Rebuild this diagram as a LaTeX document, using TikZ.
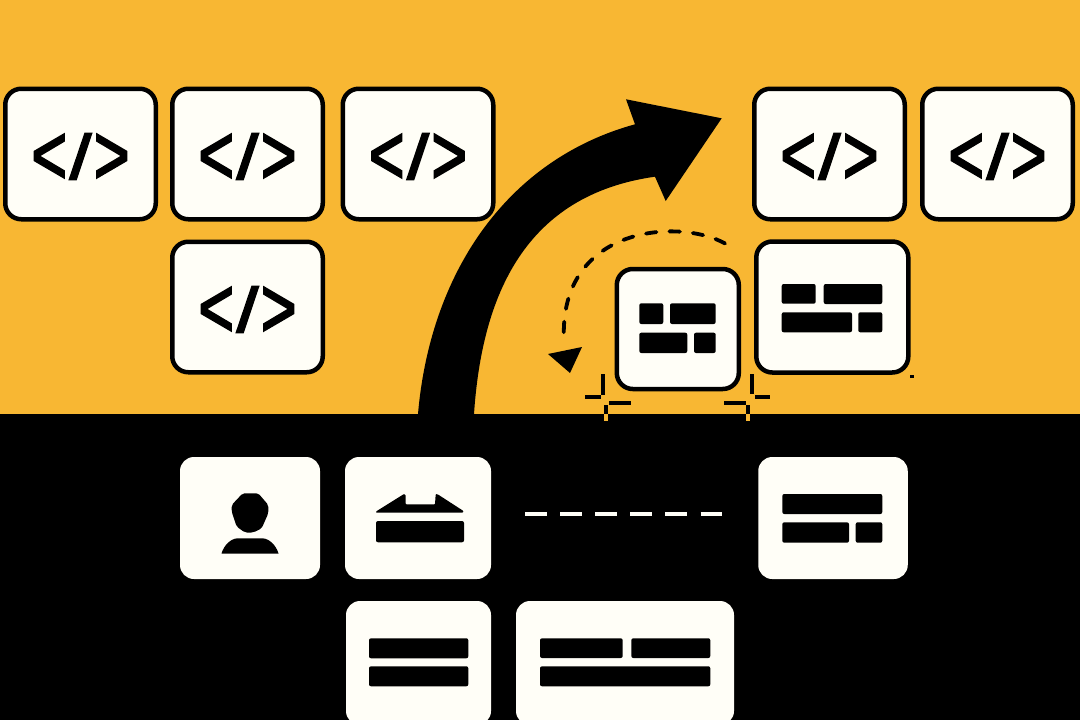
\documentclass[tikz,border=0pt]{standalone}
\usepackage{fontspec}
\setmainfont{Liberation Sans}
\newfontfamily\codefont[FakeBold=2.6]{Liberation Sans}
\usepackage{graphicx}
\definecolor{sun}{HTML}{F8B733}
\definecolor{cream}{HTML}{FFFEF7}
\newcommand{\codemark}{\fontsize{60}{60}\codefont
  \raisebox{-30pt}[0pt][0pt]{\scalebox{1.02}[1.42]{<}}\kern2.5pt\raisebox{-25pt}[0pt][0pt]{\scalebox{1.3}[1.05]{/}}\kern2.5pt\raisebox{-30pt}[0pt][0pt]{\scalebox{1.02}[1.42]{>}}}
\tikzset{
  x=1pt,y=-1pt,
  card/.style={draw=black,line width=4.5pt,fill=cream,rounded corners=16pt,inner sep=0pt,text=black},
  codecard/.style={card,minimum width=150.5pt,minimum height=130.5pt},
  plain/.style={fill=cream,rounded corners=14pt,inner sep=0pt},
  barshape/.style={fill=black,rounded corners=2pt},
  tick/.style={line width=4pt,black},
  tickend/.style={line width=4pt,sun},
  dashlink/.style={draw=cream,line width=4pt,dash pattern=on 21.6pt off 13.5pt},
  orbit/.style={draw=black,line width=3.8pt,line cap=round,dash pattern=on 10.5pt off 13pt}
}
\begin{document}
\begin{tikzpicture}
\useasboundingbox (0,0) rectangle (1080,720);
\clip (0,0) rectangle (1080,720);
\fill[sun] (0,0) rectangle (1080,414);
\fill[black] (0,414) rectangle (1080,720);

% code cards
\node[codecard] (c1) at (80.5,154) {\codemark};
\node[codecard] (c2) at (247.5,154) {\codemark};
\node[codecard] (c3) at (418,154) {\codemark};
\node[codecard] (c4) at (247.5,307) {\codemark};
\node[codecard] (c5) at (829.5,154) {\codemark};
\node[codecard] (c6) at (997.5,154) {\codemark};

% big arrow
\fill[black] (418,414) .. controls (430,275) and (505,160) .. (635,124.3)
  -- (626,99.3) -- (721.7,118.3) -- (665.7,201) -- (655,176.7)
  .. controls (525,195) and (482,295) .. (474,414) -- cycle;

% layout cards on yellow
\node[card,minimum width=122pt,minimum height=120pt] (small) at (677.8,329) {};
\fill[barshape] (639.3,303.3) rectangle (663.3,324);
\fill[barshape] (670,303.3) rectangle (715.7,324);
\fill[barshape] (639.3,332.7) rectangle (687.3,353);
\fill[barshape] (694,332.7) rectangle (715.7,353);

\node[card,minimum width=152pt,minimum height=131pt] (large) at (832.3,307) {};
\fill[barshape] (781.7,284) rectangle (815.7,303.7);
\fill[barshape] (823.7,284) rectangle (882.3,304);
\fill[barshape] (781.7,312.3) rectangle (852,332.3);
\fill[barshape] (858.3,312.3) rectangle (882.3,332.3);

% dashed orbit
\coordinate (o1) at (725,243.5);
\coordinate (o2) at (564,341);
\draw[orbit] (o1) .. controls (680,218) and (558,225) .. (o2);
\fill[black] (548,354) -- (582,347) -- (570,373) -- cycle;

% crop marks
\coordinate (l1) at (603,374); \coordinate (l2) at (603,395);
\coordinate (l3) at (585,397); \coordinate (l4) at (601,397);
\coordinate (l5) at (609,403); \coordinate (l6) at (631,403);
\coordinate (l7) at (606,405); \coordinate (l8) at (606,414); \coordinate (l9) at (606,421);
\coordinate (r1) at (752,374); \coordinate (r2) at (752,394);
\coordinate (r3) at (755,397); \coordinate (r4) at (770,397);
\coordinate (r5) at (724,403); \coordinate (r6) at (746,403);
\coordinate (r7) at (748,405); \coordinate (r8) at (748,414); \coordinate (r9) at (748,421);
\draw[tick] (l1)--(l2) (l3)--(l4) (l5)--(l6) (l7)--(l8);
\draw[tickend] (l8)--(l9);
\draw[tick] (r1)--(r2) (r3)--(r4) (r5)--(r6) (r7)--(r8);
\draw[tickend] (r8)--(r9);
\fill[black] (910,374.5) rectangle (914,378);

% cards on black
\node[plain,minimum width=140pt,minimum height=122pt] (person) at (250,518) {};
\fill[black,rounded corners=2pt] (242.7,493.3) -- (258.3,493.3) -- (268.3,505) -- (268.3,513.3) -- (261.7,528.3) -- (253.3,532.5) -- (245,532.5) -- (236.7,526.7) -- (231.7,511.7) -- (231.7,505) -- cycle;
\fill[black] (221.5,553.5) .. controls (224,545) and (231,538.3) .. (238,538.3) -- (262,538.3)
  .. controls (269,538.3) and (276,545) .. (278.5,553.5) -- cycle;

\node[plain,minimum width=146pt,minimum height=122pt] (move) at (418,518) {};
\fill[black,rounded corners=0.8pt] (376,512.7) -- (376,511.5) -- (404,494) -- (405.7,495) -- (405.7,504.3) -- (435,504.3) -- (435.7,494) -- (438,494.5) -- (463.5,511) -- (463,512.7) -- cycle;
\fill[barshape] (376,521) rectangle (464,542.3);

\node[plain,minimum width=149.5pt,minimum height=122pt] (rightcard) at (833,518) {};
\fill[barshape] (782.3,494) rectangle (882.3,514);
\fill[barshape] (782.3,522.3) rectangle (849,542.7);
\fill[barshape] (855.7,522.3) rectangle (882.3,542.7);

\coordinate (d1) at (525,514);
\coordinate (d2) at (723,514);
\draw[dashlink] (d1) -- (d2);

\node[plain,minimum width=145pt,minimum height=124pt] (lowerleft) at (418.5,663) {};
\fill[barshape] (369,638.3) rectangle (468.3,658.3);
\fill[barshape] (369,666.3) rectangle (468.3,686.3);

\node[plain,minimum width=218pt,minimum height=124pt] (lowerright) at (625,663) {};
\fill[barshape] (540,638.3) rectangle (622.7,658);
\fill[barshape] (631.3,638.3) rectangle (710.3,658);
\fill[barshape] (540,666.3) rectangle (710.3,686.3);
\end{tikzpicture}
\end{document}
